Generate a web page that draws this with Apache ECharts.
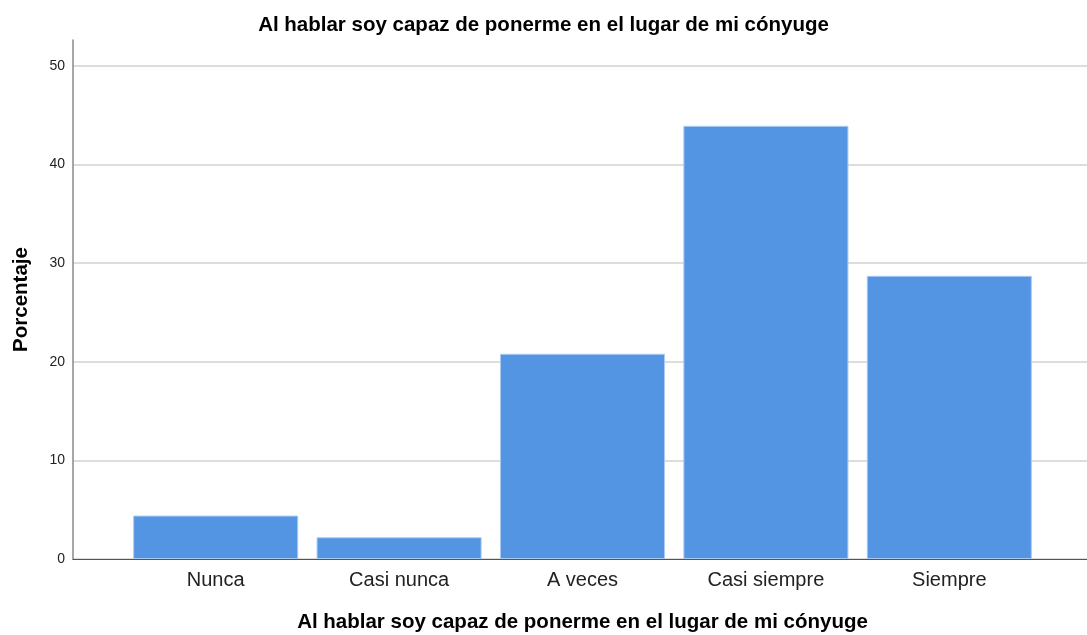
<!DOCTYPE html>
<html>
<head>
<meta charset="utf-8">
<script src="https://cdn.jsdelivr.net/npm/echarts@6/dist/echarts.min.js"></script>
<style>
  html, body { margin: 0; padding: 0; background: #fff; }
  #chart { width: 1087px; height: 635px; }
</style>
</head>
<body>
<div id="chart"></div>
<script>
// Respuestas (porcentaje) por categoría
const categories = ['Nunca', 'Casi nunca', 'A veces', 'Casi siempre', 'Siempre'];
const percentages = [4.4, 2.2, 20.8, 43.9, 28.7];
const yTicks = [0, 10, 20, 30, 40, 50];

const titleText = 'Al hablar soy capaz de ponerme en el lugar de mi cónyuge';
const yTitle = 'Porcentaje';

const FONT = '"Liberation Sans", Arial, sans-serif';
const Y_MAX = 52.6;

const chart = echarts.init(document.getElementById('chart'), null, { renderer: 'canvas' });

chart.setOption({
  animation: false,
  backgroundColor: '#ffffff',
  title: {
    text: titleText,
    left: 'center',
    top: 10,
    textStyle: { fontFamily: FONT, fontSize: 20.5, fontWeight: 'bold', color: '#000' }
  },
  grid: [
    // frame grid: axis lines and horizontal gridlines
    { left: 73, right: 0, top: 40, bottom: 76, outerBoundsMode: 'none', containLabel: false },
    // bar grid: category bands inset from the frame
    { left: 124, right: 46, top: 40, bottom: 76, outerBoundsMode: 'none', containLabel: false }
  ],
  xAxis: [
    {
      gridIndex: 0, type: 'value', min: 0, max: 1,
      axisLine: { show: true, lineStyle: { color: '#555', width: 1.2 } },
      axisTick: { show: false }, axisLabel: { show: false }, splitLine: { show: false }
    },
    {
      gridIndex: 1, type: 'category', data: categories,
      axisLine: { show: false }, axisTick: { show: false },
      axisLabel: { fontFamily: FONT, fontSize: 20, color: '#222', margin: 11 },
      name: titleText,
      nameLocation: 'middle',
      nameGap: 53,
      nameTextStyle: { fontFamily: FONT, fontSize: 20.5, fontWeight: 'bold', color: '#000' }
    }
  ],
  yAxis: [
    {
      gridIndex: 0, type: 'value', min: 0, max: Y_MAX, interval: 10,
      axisLine: { show: true, lineStyle: { color: '#8a8a8a', width: 1.5 } },
      axisTick: { show: false },
      axisLabel: {
        fontFamily: FONT, fontSize: 14, color: '#222', margin: 8,
        formatter: v => (yTicks.indexOf(v) >= 0 ? String(v) : '')
      },
      splitLine: { show: true, showMaxLine: false, lineStyle: { color: '#d2d2d2', width: 1.5 } },
      name: yTitle,
      nameLocation: 'middle',
      nameRotate: 90,
      nameGap: 41,
      nameTextStyle: { fontFamily: FONT, fontSize: 20.5, fontWeight: 'bold', color: '#000' }
    },
    {
      gridIndex: 1, type: 'value', min: 0, max: Y_MAX,
      show: false
    }
  ],
  series: [
    {
      type: 'bar',
      xAxisIndex: 1,
      yAxisIndex: 1,
      data: percentages,
      barCategoryGap: '10%',
      itemStyle: { color: '#5394e3', borderColor: '#a9cbf2', borderWidth: 1 }
    }
  ]
});
</script>
</body>
</html>
